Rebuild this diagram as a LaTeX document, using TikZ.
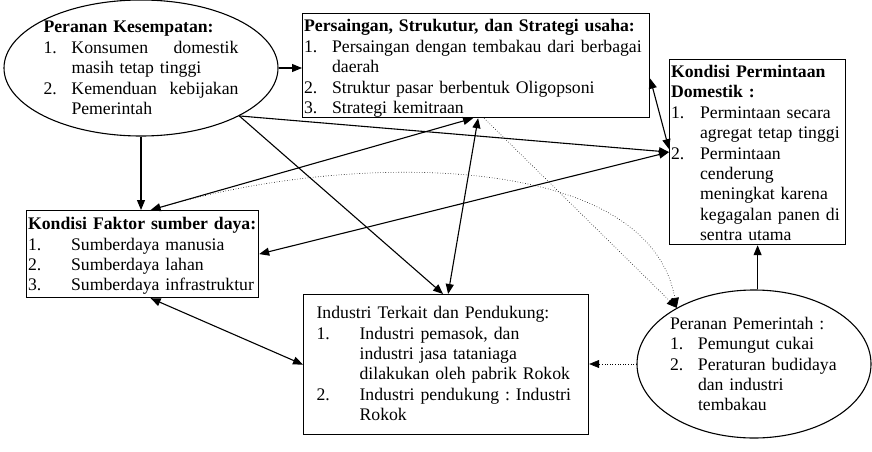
\documentclass[tikz,border=0pt]{standalone}
\usepackage{fontspec}
\setmainfont{Liberation Serif}
\usetikzlibrary{arrows.meta, shapes.geometric, positioning}

\hyphenpenalty=10000\relax
\newcommand{\butir}[3]{{\hangindent=#1\hangafter=1\noindent\makebox[#1][l]{#2}#3\par}}
\newcommand{\atas}[1]{\rule{0pt}{#1}}
\newcommand{\bawah}[1]{\rule[-#1]{0pt}{#1}}

\begin{document}
\begin{tikzpicture}[x=1pt, y=-1pt,
	teks/.style={font=\fontsize{17.7}{20.4}\selectfont},
	kotak/.style={teks, draw, line width=1.2pt, anchor=north west, align=left, inner ysep=0pt},
	elips/.style={teks, draw, ellipse, line width=1.1pt, align=left, inner sep=-5pt},
	panah/.style={line width=1.1pt, -{Triangle[length=10pt,width=8pt]}},
	duapanah/.style={line width=1.1pt, {Triangle[length=10pt,width=8pt]}-{Triangle[length=10pt,width=8pt]}},
	titik/.style={line width=0.6pt, dotted, -{Triangle[length=10pt,width=8pt]}}]

\useasboundingbox (0,0) rectangle (872,452);

\node[elips, minimum width=274pt, minimum height=136pt, text width=195pt] (kesempatan) at (141,68) {%
	\textbf{Peranan~Kesempatan:}\par
	\butir{28pt}{1.}{Konsumen\hfill domestik\newline masih~tetap~tinggi}
	\butir{28pt}{2.}{Kemenduan\hfill kebijakan\newline Pemerintah}};

\node[kotak, text width=344pt, inner xsep=1.5pt, minimum height=104pt] (persaingan) at (302,13) {%
	\atas{18.4pt}\textbf{Persaingan,~Strukutur,~dan~Strategi~usaha:}\par
	\butir{28pt}{1.}{Persaingan~dengan~tembakau~dari~berbagai\newline daerah}
	\butir{28pt}{2.}{Struktur~pasar~berbentuk~Oligopsoni}
	\butir{28pt}{3.}{Strategi~kemitraan\bawah{4pt}}};

\node[kotak, text width=173pt, inner xsep=1.5pt, minimum height=185pt] (permintaan) at (669,59) {%
	\atas{17.8pt}\textbf{Kondisi~Permintaan\newline Domestik~:}\par
	\butir{29pt}{1.}{Permintaan~secara\newline agregat~tetap~tinggi}
	\butir{29pt}{2.}{Permintaan\newline cenderung\newline meningkat~karena\newline kegagalan~panen~di\newline sentra~utama\bawah{4pt}}};

\node[kotak, text width=229pt, inner xsep=1.5pt, minimum height=87pt] (faktor) at (26,210) {%
	\atas{19pt}\textbf{Kondisi~Faktor~sumber~daya:}\par
	\butir{43pt}{1.}{Sumberdaya~manusia}
	\butir{43pt}{2.}{Sumberdaya~lahan}
	\butir{43pt}{3.}{Sumberdaya~infrastruktur\bawah{6.8pt}}};

\node[kotak, text width=259pt, inner xsep=13pt, minimum height=140pt] (industri) at (303,294) {%
	\atas{24pt}Industri~Terkait~dan~Pendukung:\par
	\butir{43pt}{1.}{Industri~pemasok,~dan\newline industri~jasa~tataniaga\newline dilakukan~oleh~pabrik~Rokok}
	\butir{43pt}{2.}{Industri~pendukung~:~Industri\newline Rokok\bawah{14pt}}};

\node[elips, minimum width=234pt, minimum height=148pt, text width=168pt] (pemerintah) at (754,364) {%
	Peranan~Pemerintah~:\par
	\butir{28pt}{1.}{Pemungut~cukai}
	\butir{28pt}{2.}{Peraturan~budidaya\newline dan~industri\newline tembakau}};

\draw[panah] (kesempatan.east) -- (kesempatan.east -| persaingan.west);
\draw[panah] (kesempatan.south) -- (kesempatan.south |- faktor.north);
\draw[panah] (kesempatan.-26) -- ([xshift=-3pt]industri.north);
\draw[panah] (kesempatan.-26) -- (permintaan.west);
\draw[duapanah] ([xshift=8pt]faktor.north) -- ([xshift=-3pt]persaingan.south);
\draw[duapanah] ([xshift=2pt]persaingan.south) -- ([xshift=2pt]industri.north);
\draw[duapanah] ([yshift=-13pt]persaingan.east) -- ([yshift=3pt]permintaan.west);
\draw[duapanah] (faktor.east) -- (permintaan.west);
\draw[duapanah] ([xshift=8pt]faktor.south) -- (industri.west);
\draw[panah] (permintaan.south |- pemerintah.north) -- (permintaan.south);
\draw[titik] (pemerintah.west) -- (pemerintah.west -| industri.east);
\draw[titik] ([xshift=8pt]persaingan.south) -- (pemerintah.144);
\draw[titik] ([xshift=10pt]faktor.north) .. controls +(178,-57) and +(-30,-163) .. (pemerintah.144);

\end{tikzpicture}
\end{document}
